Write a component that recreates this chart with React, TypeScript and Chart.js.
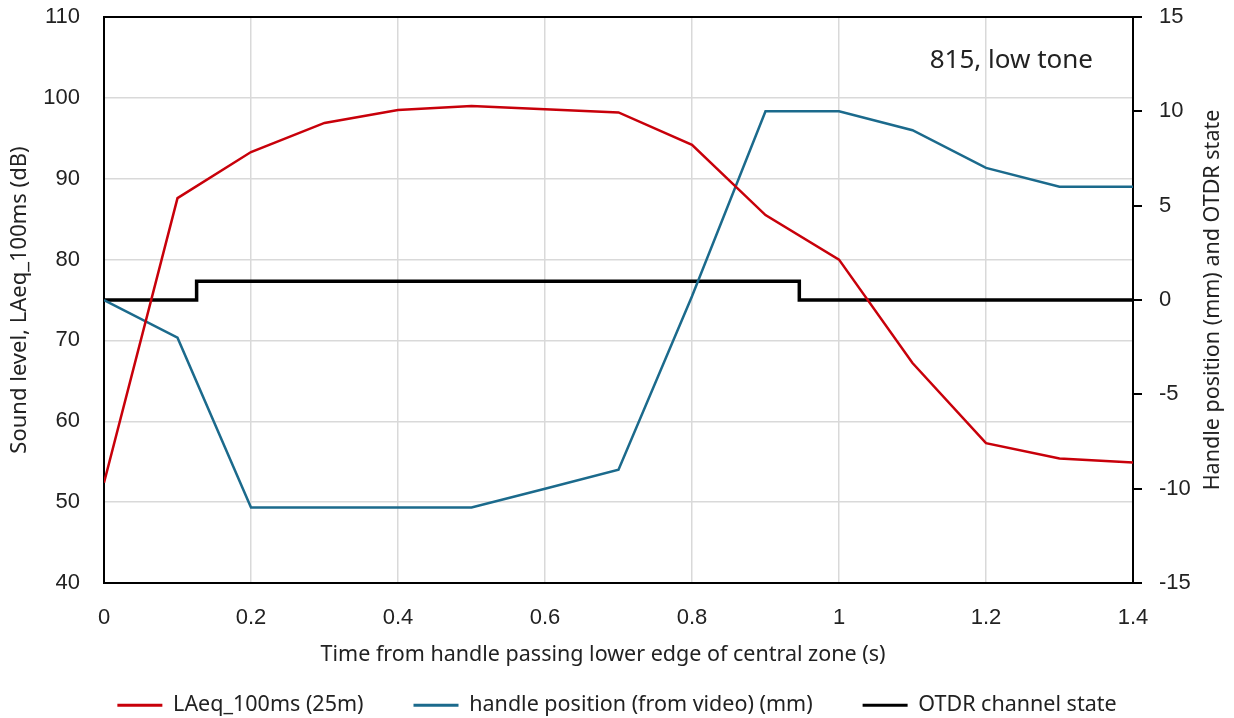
import { useEffect, useRef } from 'react';
import { Chart, registerables } from 'chart.js';

Chart.register(...registerables);

// ---- data ----
const timeS = [0, 0.1, 0.2, 0.3, 0.4, 0.5, 0.6, 0.7, 0.8, 0.9, 1.0, 1.1, 1.2, 1.3, 1.4];
const laeqDb = [52.4, 87.6, 93.3, 96.9, 98.5, 99.0, 98.6, 98.2, 94.2, 85.5, 80.0, 67.2, 57.3, 55.4, 54.9];
const handleMm = [0, -2, -11, -11, -11, -11, -10, -9, 0.2, 10, 10, 9, 7, 6, 6];
const otdrTime = [0, 0.126, 0.126, 0.946, 0.946, 1.4];
const otdrState = [0, 0, 1, 1, 0, 0];

const seriesNames = ['LAeq_100ms (25m)', 'handle position (from video) (mm)', 'OTDR channel state'];
const seriesColors = ['#C8000A', '#1B6A8C', '#000000'];

const xTitle = 'Time from handle passing lower edge of central zone (s)';
const yLeftTitle = 'Sound level, LAeq_100ms (dB)';
const yRightTitle = 'Handle position (mm) and OTDR state';
const annotationText = '815, low tone';

const xRange = [0, 1.4, 0.2];
const yLeftRange = [40, 110, 10];
const yRightRange = [-15, 15, 5];

const TICK_FONT = { family: '"Liberation Sans", Arial, sans-serif', size: 22 };
const TITLE_FONT = { family: '"Noto Sans", sans-serif', size: 22 };
const TEXT_COLOR = '#222222';
const GRID_COLOR = '#D9D9D9';

const overlayPlugin = {
  id: 'overlay',
  afterDraw(chart: any) {
    const { ctx, chartArea: a } = chart;
    ctx.save();
    // top frame line
    ctx.strokeStyle = '#000';
    ctx.lineWidth = 2;
    ctx.beginPath();
    ctx.moveTo(a.left - 1, a.top);
    ctx.lineTo(a.right + 1, a.top);
    ctx.stroke();
    // annotation
    ctx.fillStyle = TEXT_COLOR;
    ctx.font = '26px "Noto Sans", sans-serif';
    ctx.textAlign = 'right';
    ctx.textBaseline = 'alphabetic';
    ctx.fillText(annotationText, a.right - 40, a.top + 51);
    // x axis title
    ctx.textAlign = 'center';
    ctx.textBaseline = 'middle';
    ctx.font = '21.5px "Noto Sans", sans-serif';
    ctx.fillText(xTitle, 603, a.bottom + 72);
    // right axis title (reads bottom to top)
    ctx.translate(1213, (a.top + a.bottom) / 2);
    ctx.rotate(-Math.PI / 2);
    ctx.font = '21.5px "Noto Sans", sans-serif';
    ctx.fillText(yRightTitle, 0, 0);
    ctx.restore();
  },
};

const noScalePadding = (s: any) => {
  s.paddingTop = 0;
  s.paddingBottom = 0;
  s.paddingLeft = 0;
  s.paddingRight = 0;
};

export default function App() {
  const canvasRef = useRef<HTMLCanvasElement | null>(null);

  useEffect(() => {
    const canvas = canvasRef.current;
    if (!canvas) return;
    const chart = new Chart(canvas, {
      type: 'line',
      data: {
        datasets: [
          {
            label: seriesNames[0],
            data: timeS.map((t, i) => ({ x: t, y: laeqDb[i] })),
            borderColor: seriesColors[0],
            backgroundColor: seriesColors[0],
            borderWidth: 2.5,
            pointRadius: 0,
            yAxisID: 'y',
          },
          {
            label: seriesNames[1],
            data: timeS.map((t, i) => ({ x: t, y: handleMm[i] })),
            borderColor: seriesColors[1],
            backgroundColor: seriesColors[1],
            borderWidth: 2.5,
            pointRadius: 0,
            yAxisID: 'y1',
          },
          {
            label: seriesNames[2],
            data: otdrTime.map((t, i) => ({ x: t, y: otdrState[i] })),
            borderColor: seriesColors[2],
            backgroundColor: seriesColors[2],
            borderWidth: 3.5,
            borderJoinStyle: 'miter',
            pointRadius: 0,
            yAxisID: 'y1',
          },
        ],
      },
      options: {
        animation: false,
        responsive: false,
        maintainAspectRatio: false,
        layout: { padding: { top: 17, bottom: -8, left: 0, right: 0 } },
        plugins: {
          tooltip: { enabled: false },
          legend: {
            position: 'bottom',
            labels: {
              boxWidth: 45,
              boxHeight: 3,
              padding: 50,
              color: TEXT_COLOR,
              font: { family: '"Noto Sans", sans-serif', size: 21.5 },
              generateLabels: (c: any) =>
                c.data.datasets.map((ds: any, i: number) => ({
                  text: ds.label,
                  fillStyle: ds.borderColor,
                  strokeStyle: ds.borderColor,
                  lineWidth: 0,
                  hidden: false,
                  datasetIndex: i,
                  fontColor: TEXT_COLOR,
                })),
            },
          },
        },
        scales: {
          x: {
            type: 'linear',
            min: xRange[0],
            max: xRange[1],
            afterFit: (s: any) => {
              noScalePadding(s);
              s.height = 61.5;
            },
            ticks: {
              stepSize: xRange[2],
              padding: 22,
              color: TEXT_COLOR,
              font: TICK_FONT,
              maxRotation: 0,
              callback: (v: any) => String(Math.round(Number(v) * 10) / 10),
            },
            grid: { color: GRID_COLOR, lineWidth: 1.5, drawTicks: false },
            border: { display: true, color: '#000', width: 2 },
            title: { display: false },
          },
          y: {
            type: 'linear',
            position: 'left',
            min: yLeftRange[0],
            max: yLeftRange[1],
            afterFit: (s: any) => {
              noScalePadding(s);
              s.width = 104;
            },
            ticks: { stepSize: yLeftRange[2], padding: 24, color: TEXT_COLOR, font: TICK_FONT },
            grid: { color: GRID_COLOR, lineWidth: 1.5, drawTicks: false },
            border: { display: true, color: '#000', width: 2 },
            title: {
              display: true,
              text: yLeftTitle,
              color: TEXT_COLOR,
              font: TITLE_FONT,
              padding: { top: 7, bottom: 0 },
            },
          },
          y1: {
            type: 'linear',
            position: 'right',
            min: yRightRange[0],
            max: yRightRange[1],
            afterFit: (s: any) => {
              noScalePadding(s);
              s.width = 101;
            },
            ticks: { stepSize: yRightRange[2], padding: 17, color: TEXT_COLOR, font: TICK_FONT },
            grid: {
              drawOnChartArea: false,
              drawTicks: true,
              tickLength: 9,
              color: '#000',
              lineWidth: 2,
            },
            border: { display: true, color: '#000', width: 2 },
          },
        },
      },
      plugins: [overlayPlugin],
    } as any);
    return () => chart.destroy();
  }, []);

  return (
    <div style={{ position: 'fixed', left: 0, top: 0, width: 1234, height: 718, background: '#fff' }}>
      <canvas ref={canvasRef} width={1234} height={718} style={{ display: 'block' }} />
    </div>
  );
}
